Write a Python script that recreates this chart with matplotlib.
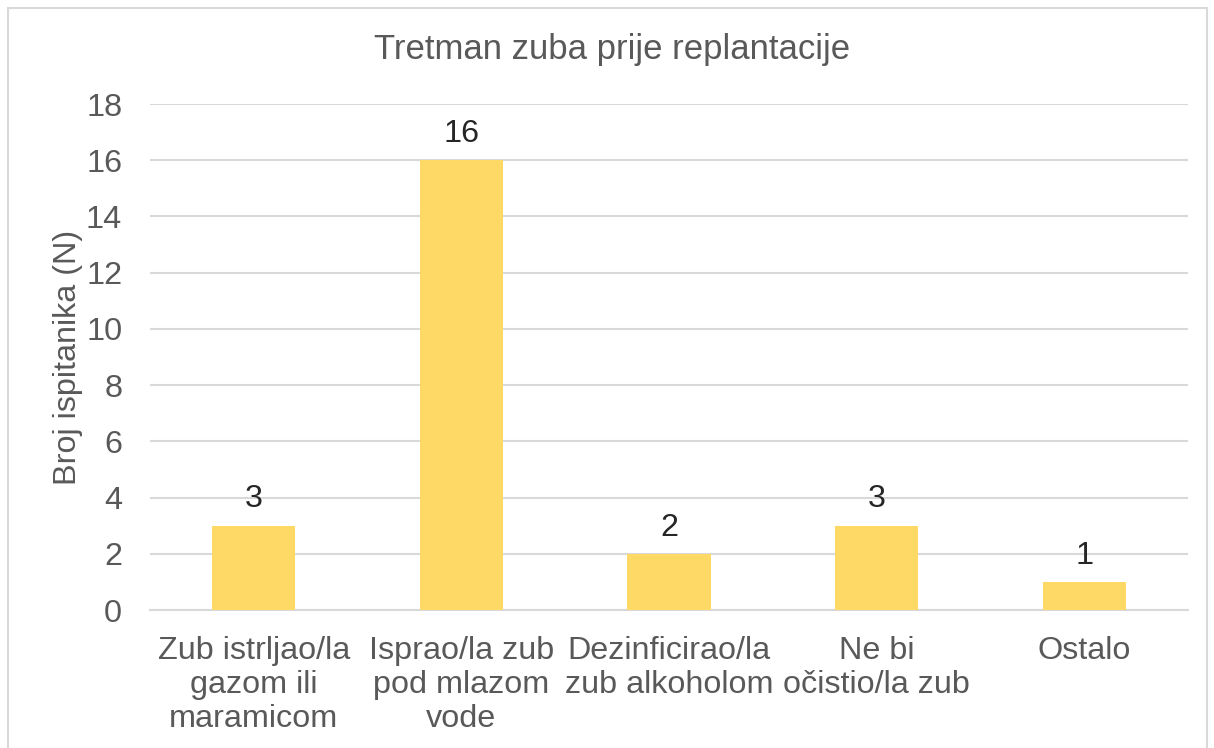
import matplotlib
matplotlib.use("Agg")
import matplotlib.pyplot as plt
from matplotlib.patches import Rectangle

categories = ["Zub istrljao/la\ngazom ili\nmaramicom",
              "Isprao/la zub\npod mlazom\nvode",
              "Dezinficirao/la\nzub alkoholom",
              "Ne bi\nočistio/la zub",
              "Ostalo"]
values = [3, 16, 2, 3, 1]
yticks = [0, 2, 4, 6, 8, 10, 12, 14, 16, 18]

plt.rcParams['font.family'] = ['Liberation Sans', 'DejaVu Sans']
txt = '#595959'
fs = 23.3
fig = plt.figure(figsize=(12.14, 7.48), dpi=100)
fig.patches.append(Rectangle((8/1214, -0.01), (1207-8)/1214, 1 - 8/748 + 0.01,
                             transform=fig.transFigure, fill=False,
                             edgecolor='#D9D9D9', linewidth=1.5))
ax = fig.add_axes([150/1214, 1-610/748, (1188-150)/1214, (610-104)/748])
x = range(len(values))
bars = ax.bar(x, values, width=0.4, color='#FFD966', zorder=3)
for xi, v in zip(x, values):
    ax.text(xi, v + 0.4, str(v), ha='center', va='bottom', fontsize=fs, color='#262626')
ax.set_xlim(-0.5, len(values) - 0.5)
ax.set_ylim(0, 18)
ax.set_yticks(yticks)
ax.yaxis.grid(True, color='#D9D9D9', linewidth=1.5, zorder=0)
ax.set_xticks(list(x))
ax.set_xticklabels(categories, fontsize=fs, color=txt, linespacing=1.17)
ax.tick_params(axis='y', labelsize=fs, labelcolor=txt, length=0, pad=20)
ax.tick_params(axis='x', length=0, pad=19)
for s in ['top', 'right', 'left']:
    ax.spines[s].set_visible(False)
ax.spines['bottom'].set_color('#D9D9D9')
ax.spines['bottom'].set_linewidth(1.5)
ax.set_ylabel('Broj ispitanika (N)', fontsize=fs, color=txt, labelpad=2)
fig.text(612/1214, 1-50/748, 'Tretman zuba prije replantacije', ha='center', va='center',
         fontsize=25, color=txt)
fig.savefig('out.png', dpi=100)
